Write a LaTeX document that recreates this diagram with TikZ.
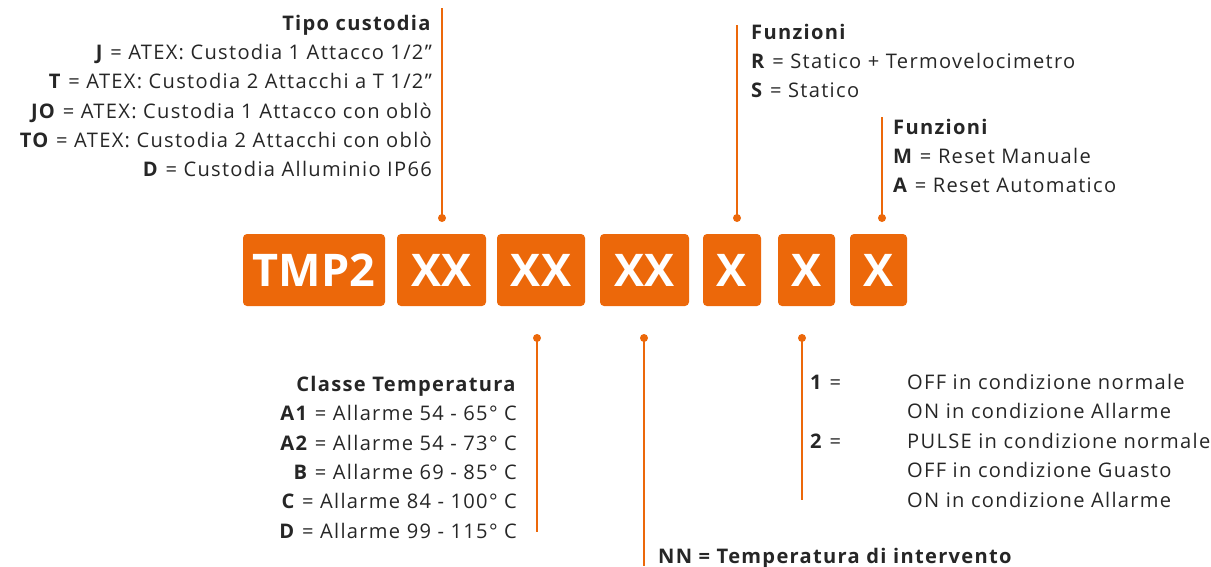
\documentclass[tikz,border=0pt]{standalone}
\usepackage{fontspec}
\setmainfont{Open Sans}
\newfontfamily\labfont{Open Sans}[LetterSpace=6.5]
\definecolor{org}{RGB}{236,104,10}
\definecolor{txt}{RGB}{38,38,38}
\begin{document}
\begin{tikzpicture}[x=1pt,y=-1pt,
  box/.style={fill=org, rounded corners=4pt, inner sep=0pt, minimum height=72pt,
     text=white, font=\fontsize{45}{50}\selectfont\bfseries},
  lab/.style={inner sep=0pt, text=txt, font=\labfont\fontsize{20.1}{23}\selectfont},
  labR/.style={lab, anchor=base east},
  labL/.style={lab, anchor=base west},
  lead/.style={draw=org, line width=1.6pt},
  dot/.style={fill=org}
]
\useasboundingbox (0,0) rectangle (1211,566);

% boxes
\node[box, minimum width=142pt] (tmp) at (314,270) {TMP2};
\node[box, minimum width=89pt] (xa) at (441.5,270) {XX};
\node[box, minimum width=88pt] (xb) at (541,270) {XX};
\node[box, minimum width=89pt] (xc) at (644.5,270) {XX};
\node[box, minimum width=58pt] (xd) at (732,270) {X};
\node[box, minimum width=57pt] (xe) at (806.5,270) {X};
\node[box, minimum width=57pt] (xf) at (878.5,270) {X};

% leader coordinates
\coordinate (d1) at (442,218); \coordinate (e1) at (442,8);
\coordinate (d2) at (737,218); \coordinate (e2) at (737,25);
\coordinate (d3) at (882,218); \coordinate (e3) at (882,117);
\coordinate (d4) at (537,338); \coordinate (e4) at (537,532);
\coordinate (d5) at (644,338); \coordinate (e5) at (644,566);
\coordinate (d6) at (802,338); \coordinate (e6) at (802,500);

\foreach \i in {1,...,6}{
  \draw[lead] (d\i) -- (e\i);
  \fill[dot] (d\i) circle (4pt);
}

% Tipo custodia
\node[labR] (t0) at (432,30) {\textbf{Tipo custodia}};
\node[labR] (t1) at (432,59) {\textbf{J} = ATEX: Custodia 1 Attacco 1/2”};
\node[labR] (t2) at (432,88) {\textbf{T} = ATEX: Custodia 2 Attacchi a T 1/2”};
\node[labR] (t3) at (432,118) {\textbf{JO} = ATEX: Custodia 1 Attacco con oblò};
\node[labR] (t4) at (432,147) {\textbf{TO} = ATEX: Custodia 2 Attacchi con oblò};
\node[labR] (t5) at (432,176) {\textbf{D} = Custodia Alluminio IP66};

% Funzioni 1
\node[labL] (f0) at (751,39) {\textbf{Funzioni}};
\node[labL] (f1) at (751,68) {\textbf{R} = Statico + Termovelocimetro};
\node[labL] (f2) at (751,97) {\textbf{S} = Statico};

% Funzioni 2
\node[labL] (g0) at (893,134) {\textbf{Funzioni}};
\node[labL] (g1) at (893,163) {\textbf{M} = Reset Manuale};
\node[labL] (g2) at (893,192) {\textbf{A} = Reset Automatico};

% Classe temperatura
\node[labR] (c0) at (517,391) {\textbf{Classe Temperatura}};
\node[labR] (c1) at (517,420) {\textbf{A1} = Allarme 54 - 65° C};
\node[labR] (c2) at (517,450) {\textbf{A2} = Allarme 54 - 73° C};
\node[labR] (c3) at (517,479) {\textbf{B} = Allarme 69 - 85° C};
\node[labR] (c4) at (517,508) {\textbf{C} = Allarme 84 - 100° C};
\node[labR] (c5) at (517,538) {\textbf{D} = Allarme 99 - 115° C};

% Uscite
\node[labL] (u1) at (810,389) {\textbf{1} =};
\node[labL] (u2) at (810,448) {\textbf{2} =};
\node[labL] (o1) at (907,389) {OFF in condizione normale};
\node[labL] (o2) at (907,418) {ON in condizione Allarme};
\node[labL] (o3) at (907,448) {PULSE in condizione normale};
\node[labL] (o4) at (907,477) {OFF in condizione Guasto};
\node[labL] (o5) at (907,507) {ON in condizione Allarme};

% NN
\node[labL] (nn) at (658,563) {\textbf{NN = Temperatura di intervento}};
\end{tikzpicture}
\end{document}
